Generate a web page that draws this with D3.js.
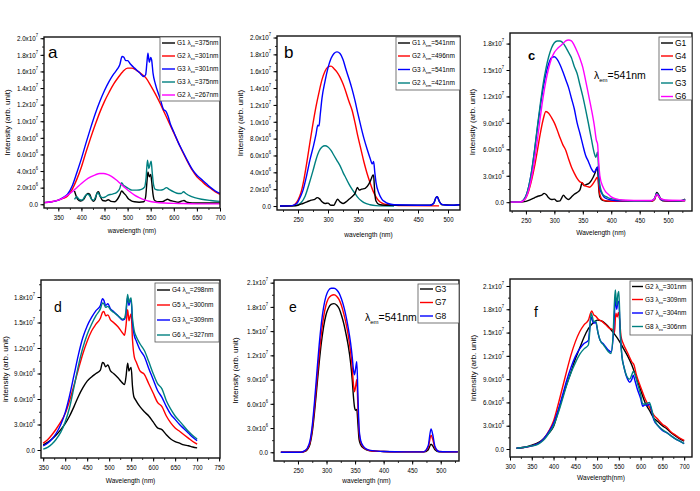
<!DOCTYPE html>
<html><head><meta charset="utf-8">
<script src="https://cdn.jsdelivr.net/npm/d3@7"></script>
<style>body{margin:0;background:#fff}svg{display:block}text{font-family:"Liberation Sans",Arial,sans-serif;fill:#000}</style>
</head><body><svg id="chart" width="700" height="491"></svg>
<script>
// ===== DATA (intensity in units of 1e6 arb. unit) =====
// Panel a: emission spectra
const aXTicks = [350,400,450,500,550,600,650,700];
const aYTicks = [0,2,4,6,8,10,12,14,16,18,20];
const aLabels = [["G1","ex","=375nm"],["G2","ex","=301nm"],["G3","ex","=301nm"],["G3","ex","=375nm"],["G2","ex","=267nm"]];
const aG1_375 = [[385,1.6],[388,1.1],[392,0.6],[398,0.4],[405,0.6],[410,1.1],[414,1.3],[418,1.2],[422,0.6],[426,0.35],[430,0.6],[434,1.4],[437,1.5],[441,0.9],[446,0.45],[452,0.4],[458,0.55],[464,0.35],[472,0.3],[478,0.6],[483,1.1],[487,1.6],[491,1.4],[496,1.1],[501,0.7],[507,0.45],[515,0.3],[525,0.25],[535,0.3],[539,0.9],[542,2.8],[544,3.9],[547,3.3],[550,3.6],[552,2.8],[555,1.2],[558,0.5],[565,0.3],[575,0.3],[582,0.5],[586,0.6],[592,0.45],[600,0.35],[610,0.25],[618,0.4],[622,0.45],[628,0.25],[640,0.15],[660,0.15],[700,0.15]];
const aG2_301 = [[319,0.2],[335,0.3],[350,0.5],[360,0.7],[370,1.0],[380,1.8],[390,3.0],[400,4.5],[410,6.3],[420,8.0],[430,9.6],[440,11.1],[450,12.4],[460,13.5],[470,14.5],[480,15.3],[490,16.0],[500,16.4],[510,16.4],[520,16.1],[530,15.7],[540,15.2],[550,14.3],[560,13.3],[570,12.2],[580,11.0],[590,9.8],[600,8.6],[610,7.4],[620,6.2],[630,5.1],[640,4.1],[650,3.3],[660,2.8],[670,2.3],[680,1.9],[690,1.5],[700,1.2]];
const aG3_301 = [[319,0.2],[335,0.3],[350,0.5],[360,0.8],[370,1.2],[380,2.2],[390,3.8],[400,5.5],[410,7.4],[420,9.2],[430,10.9],[440,12.4],[450,13.7],[460,14.8],[470,15.7],[478,16.3],[483,16.8],[488,17.8],[492,17.7],[496,17.3],[500,17.3],[506,16.9],[515,16.4],[525,15.9],[535,15.4],[539,15.6],[542,17.2],[544,18.2],[547,17.1],[550,17.7],[552,17.4],[555,15.8],[560,14.5],[570,12.8],[578,11.4],[583,11.2],[587,10.7],[593,9.6],[600,8.7],[610,7.4],[620,6.3],[630,5.2],[640,4.2],[650,3.5],[660,3.0],[670,2.5],[680,2.0],[690,1.6],[700,1.3]];
const aG3_375 = [[385,0.6],[390,0.9],[395,0.6],[402,0.5],[408,1.0],[414,1.2],[418,1.0],[422,0.6],[427,0.5],[432,1.1],[436,1.4],[440,1.0],[446,0.8],[452,0.9],[458,1.1],[465,1.2],[472,1.3],[478,1.5],[483,1.9],[487,2.6],[491,2.3],[496,2.1],[502,1.9],[510,1.7],[520,1.7],[530,1.8],[537,2.1],[540,3.2],[543,5.3],[546,4.3],[549,4.9],[551,5.2],[553,4.0],[556,2.4],[560,1.8],[570,1.7],[578,1.8],[584,2.0],[590,1.8],[600,1.5],[610,1.3],[616,1.3],[621,1.5],[626,1.3],[635,1.0],[645,0.8],[660,0.6],[680,0.45],[700,0.35]];
const aG2_267 = [[319,0.2],[335,0.3],[350,0.5],[360,0.75],[370,1.1],[380,1.5],[390,2.0],[400,2.5],[410,2.95],[420,3.3],[430,3.55],[440,3.7],[448,3.7],[456,3.6],[465,3.35],[475,2.95],[485,2.45],[495,1.95],[505,1.5],[515,1.1],[525,0.8],[535,0.55],[545,0.4],[560,0.25],[580,0.15],[610,0.1],[650,0.05],[700,0.05]];

// Panel b: excitation spectra
const bXTicks = [250,300,350,400,450,500];
const bYTicks = [0,2,4,6,8,10,12,14,16,18,20];
const bLabels = [["G1","em","=541nm"],["G2","em","=496nm"],["G3","em","=541nm"],["G2","em","=421nm"]];
const bG1_541 = [[220,0],[240,0.02],[250,0.1],[258,0.3],[265,0.5],[272,0.7],[278,0.8],[282,1.0],[286,0.85],[290,0.5],[295,0.3],[300,0.35],[305,0.1],[310,0.1],[313,0.5],[316,0.8],[320,0.5],[325,0.3],[330,0.5],[335,0.8],[340,1.1],[345,1.5],[349,2.2],[352,1.9],[356,2.0],[362,2.1],[368,2.6],[372,3.2],[375,3.7],[376,3.6],[378,1.5],[380,0.6],[385,0.2],[395,0.1],[470,0.1],[476,0.3],[480,1.0],[482,1.1],[486,0.5],[490,0.15],[510,0.1],[520,0.15]];
const bG2_496 = [[220,0],[240,0.02],[245,0.2],[250,0.7],[255,1.6],[260,3.2],[265,5.3],[270,7.6],[275,9.8],[280,11.8],[285,13.5],[290,15.0],[295,16.0],[300,16.5],[305,16.6],[310,16.3],[315,15.9],[320,15.3],[325,14.5],[330,13.5],[335,12.4],[340,11.4],[345,9.9],[350,8.2],[355,6.7],[360,5.2],[365,3.9],[370,2.8],[375,1.8],[380,1.1],[385,0.6],[390,0.35],[400,0.15],[410,0.1],[420,0.05],[485,0.02]];
const bG3_541 = [[220,0],[240,0.05],[248,0.3],[252,0.8],[258,1.8],[264,3.5],[270,5.5],[276,7.2],[280,8.5],[283,9.6],[285,9.5],[287,10.8],[290,12.8],[295,14.8],[300,16.4],[305,17.5],[310,18.1],[315,18.3],[320,18.1],[325,17.4],[330,16.2],[335,15.1],[340,13.9],[345,12.5],[350,10.9],[355,9.4],[360,8.0],[365,6.8],[370,5.7],[374,5.0],[376,5.3],[378,4.0],[380,2.8],[385,1.5],[390,0.8],[395,0.5],[400,0.3],[410,0.15],[450,0.1],[470,0.1],[476,0.3],[480,1.0],[482,1.1],[485,0.6],[490,0.2],[500,0.1],[520,0.15]];
const bG2_421 = [[220,0],[245,0.05],[255,0.4],[262,1.2],[268,2.5],[275,4.2],[280,5.5],[285,6.5],[290,7.0],[295,7.15],[300,7.0],[305,6.6],[310,6.0],[315,5.4],[320,4.8],[325,4.0],[330,3.3],[335,2.6],[340,2.0],[345,1.5],[350,1.0],[355,0.65],[360,0.4],[370,0.15],[380,0.05],[410,0]];

// Panel c: excitation, lambda_em = 541 nm
const cXTicks = [250,300,350,400,450,500];
const cYTicks = [0,3,6,9,12,15,18];
const cLabels = ["G1","G4","G5","G3","G6"];
const cG1 = [[218,0],[245,0.05],[250,0.1],[258,0.3],[265,0.5],[272,0.7],[278,0.8],[282,1.0],[286,0.85],[290,0.5],[295,0.3],[300,0.35],[305,0.1],[310,0.15],[313,0.5],[316,0.8],[320,0.5],[325,0.3],[330,0.6],[335,0.9],[340,1.1],[345,1.4],[349,2.2],[352,1.9],[356,2.0],[362,2.2],[368,2.8],[372,3.4],[375,3.9],[376,3.8],[378,1.6],[380,0.6],[385,0.2],[395,0.1],[470,0.1],[476,0.3],[480,1.1],[482,1.0],[486,0.5],[490,0.15],[510,0.1],[525,0.2],[530,0.35]];
const cG4 = [[218,0],[240,0.02],[245,0.15],[250,0.5],[255,1.3],[260,2.5],[265,4.0],[270,5.8],[275,7.7],[280,9.3],[285,10.3],[290,10.1],[295,9.6],[300,9.0],[305,8.2],[310,7.3],[315,6.5],[320,5.9],[325,4.9],[330,4.0],[335,3.3],[340,2.7],[345,2.3],[349,2.2],[352,1.9],[357,1.8],[362,1.7],[367,2.0],[372,2.5],[375,2.8],[377,2.6],[379,1.2],[382,0.5],[387,0.2],[400,0.1],[470,0.1],[476,0.3],[480,0.9],[483,0.7],[487,0.3],[500,0.1],[530,0.15]];
const cG5 = [[218,0],[240,0.02],[245,0.2],[250,0.7],[255,1.8],[260,3.5],[265,5.8],[270,8.3],[275,10.7],[280,12.8],[285,14.5],[290,15.7],[295,16.4],[300,16.5],[305,16.2],[310,15.6],[315,14.8],[320,13.9],[325,13.0],[330,11.8],[335,10.6],[340,9.0],[345,7.8],[350,6.5],[355,5.3],[360,4.6],[365,3.8],[370,3.4],[374,3.8],[376,4.0],[378,2.8],[380,1.6],[385,0.8],[390,0.45],[400,0.25],[420,0.15],[470,0.15],[476,0.4],[480,1.0],[483,0.8],[487,0.3],[500,0.15],[530,0.2]];
const cG3 = [[218,0],[240,0.02],[245,0.2],[250,0.7],[255,1.8],[260,3.5],[265,5.8],[270,8.5],[275,11.0],[280,13.3],[285,15.1],[290,16.5],[295,17.5],[300,18.1],[305,18.3],[310,18.3],[315,18.1],[320,17.6],[325,17.0],[330,16.4],[335,15.4],[340,14.6],[345,13.3],[350,12.0],[355,10.5],[360,8.9],[365,7.2],[370,5.6],[373,5.1],[376,5.7],[378,3.5],[380,1.9],[385,0.9],[390,0.65],[395,0.5],[400,0.4],[410,0.3],[420,0.2],[440,0.12],[470,0.15],[476,0.4],[480,1.0],[483,0.8],[487,0.4],[495,0.2],[520,0.15],[530,0.3]];
const cG6 = [[218,0],[240,0.02],[245,0.15],[250,0.5],[255,1.4],[260,2.8],[265,4.7],[270,7.0],[275,9.5],[280,11.8],[285,13.7],[290,15.2],[295,16.3],[300,17.0],[305,17.4],[310,17.7],[315,18.0],[320,18.3],[325,18.4],[330,18.3],[335,17.8],[340,17.1],[345,16.3],[350,15.3],[355,13.8],[360,12.2],[365,10.6],[370,8.8],[374,7.0],[376,6.6],[378,4.5],[380,3.0],[385,1.8],[390,1.2],[395,0.9],[400,0.6],[410,0.35],[420,0.25],[440,0.2],[470,0.2],[476,0.4],[480,0.9],[483,0.7],[487,0.4],[495,0.25],[530,0.2]];

// Panel d: emission spectra
const dXTicks = [350,400,450,500,550,600,650,700,750];
const dYTicks = [0,3,6,9,12,15,18];
const dLabels = [["G4","ex","=298nm"],["G5","ex","=300nm"],["G3","ex","=309nm"],["G6","ex","=327nm"]];
const dG4_298 = [[350,0.6],[360,0.9],[370,1.3],[380,1.8],[390,2.4],[400,3.1],[410,4.0],[420,5.1],[430,6.3],[440,7.3],[450,8.1],[460,8.6],[470,9.0],[480,9.4],[485,10.3],[488,10.2],[492,9.8],[497,10.0],[503,9.3],[510,9.0],[520,8.5],[530,7.9],[535,7.7],[538,8.5],[542,10.2],[545,9.3],[548,9.6],[550,9.7],[553,7.5],[556,6.3],[560,5.9],[570,5.1],[580,4.5],[590,4.0],[600,3.3],[610,2.6],[620,2.4],[630,1.8],[640,1.3],[650,1.0],[660,0.8],[670,0.6],[680,0.5],[690,0.35],[700,0.25]];
const dG5_300 = [[350,0.8],[360,1.2],[370,1.8],[380,2.5],[390,3.3],[400,4.3],[410,5.8],[420,7.6],[430,9.5],[440,11.3],[450,12.8],[460,14.0],[470,14.8],[480,15.5],[485,16.2],[488,16.3],[492,15.8],[497,15.9],[503,15.3],[510,15.0],[520,14.5],[530,13.8],[535,13.5],[538,14.5],[542,16.5],[545,15.2],[548,15.8],[550,16.0],[553,13.0],[557,11.0],[562,10.3],[570,9.3],[580,8.9],[590,7.8],[600,6.7],[610,5.6],[620,5.1],[630,4.0],[640,3.2],[650,2.6],[660,2.2],[670,1.8],[680,1.4],[690,1.0],[700,0.7]];
const dG3_309 = [[350,0.5],[360,0.8],[370,1.3],[380,2.0],[390,3.0],[400,4.4],[410,6.4],[420,8.8],[430,11.2],[440,13.2],[450,14.6],[460,15.6],[470,16.4],[480,17.0],[485,17.8],[488,17.6],[492,17.0],[497,17.2],[503,16.6],[510,16.3],[520,15.8],[530,15.3],[535,15.4],[538,16.0],[542,18.0],[545,17.0],[548,17.6],[550,17.6],[553,15.0],[557,13.5],[562,12.8],[570,11.8],[580,11.0],[590,9.6],[600,8.3],[610,7.0],[620,6.2],[630,5.1],[640,4.2],[650,3.6],[660,3.0],[670,2.5],[680,2.0],[690,1.5],[700,1.1]];
const dG6_327 = [[350,0.1],[360,0.3],[370,0.7],[380,1.3],[390,2.1],[400,3.3],[410,5.0],[420,7.4],[430,9.9],[440,12.0],[450,13.6],[460,14.8],[470,15.8],[480,16.6],[485,17.3],[488,17.2],[492,16.8],[497,16.9],[503,16.5],[510,16.2],[520,15.8],[530,15.4],[535,15.5],[538,16.3],[542,18.3],[545,17.3],[548,17.8],[550,17.9],[553,15.5],[557,14.0],[562,13.3],[570,12.5],[580,11.7],[590,10.4],[600,9.0],[610,7.8],[620,7.2],[630,5.8],[640,4.8],[650,4.0],[660,3.4],[670,2.8],[680,2.2],[690,1.7],[700,1.3]];

// Panel e: excitation, lambda_em = 541 nm
const eXTicks = [250,300,350,400,450,500];
const eYTicks = [0,3,6,9,12,15,18,21];
const eLabels = ["G3","G7","G8"];
const eG3 = [[220,0],[255,0],[262,0.1],[267,0.4],[271,1.0],[275,2.5],[279,5.0],[283,8.0],[287,11.0],[291,13.6],[295,15.6],[299,17.0],[303,17.8],[308,18.3],[313,18.4],[318,18.2],[322,17.8],[326,17.0],[330,16.0],[334,14.7],[338,13.2],[342,11.2],[345,9.0],[347,7.0],[349,5.6],[351,5.2],[353,5.3],[355,3.5],[357,1.6],[360,0.9],[365,0.5],[370,0.3],[380,0.15],[400,0.1],[440,0.05],[470,0.05],[478,0.3],[483,1.0],[486,0.8],[490,0.3],[497,0.05],[530,0.05]];
const eG7 = [[220,0],[255,0],[262,0.15],[267,0.5],[271,1.2],[275,2.9],[279,5.6],[283,8.8],[287,12.0],[291,14.7],[295,16.8],[299,18.2],[303,19.0],[308,19.4],[313,19.5],[318,19.3],[322,18.9],[326,18.2],[330,17.2],[334,16.0],[338,14.5],[342,12.5],[345,10.5],[347,8.5],[349,7.5],[351,8.2],[353,9.0],[355,5.5],[357,2.5],[360,1.2],[365,0.6],[370,0.35],[380,0.15],[400,0.1],[440,0.05],[470,0.05],[478,0.6],[483,2.1],[486,1.6],[490,0.5],[497,0.1],[530,0.05]];
const eG8 = [[220,0],[255,0],[262,0.2],[267,0.6],[271,1.4],[275,3.3],[279,6.3],[283,9.8],[287,13.2],[291,16.0],[295,18.0],[299,19.3],[303,20.0],[308,20.3],[313,20.3],[318,20.1],[322,19.7],[326,19.0],[330,18.1],[334,16.9],[338,15.4],[342,13.6],[345,11.8],[347,10.3],[349,9.6],[351,10.4],[353,11.2],[355,7.0],[357,3.0],[360,1.4],[365,0.7],[370,0.4],[380,0.2],[400,0.1],[440,0.05],[470,0.05],[478,0.8],[483,2.9],[486,2.2],[490,0.7],[497,0.1],[530,0.05]];

// Panel f: emission spectra
const fXTicks = [300,350,400,450,500,550,600,650,700];
const fYTicks = [0,3,6,9,12,15,18,21];
const fLabels = [["G2","ex","=301nm"],["G3","ex","=309nm"],["G7","ex","=304nm"],["G8","ex","=306nm"]];
const fG2_301 = [[315,0.1],[330,0.2],[350,0.5],[360,0.7],[370,1.0],[380,1.5],[390,2.1],[400,2.9],[410,4.7],[420,6.6],[430,8.3],[440,9.9],[450,11.6],[460,13.0],[470,14.4],[480,15.5],[490,16.2],[500,16.6],[510,16.5],[520,16.1],[530,15.5],[540,14.8],[550,14.0],[560,13.0],[570,12.0],[580,10.8],[590,9.2],[600,7.6],[610,6.0],[620,5.0],[630,4.0],[640,3.5],[650,3.0],[660,2.6],[670,2.1],[680,1.7],[690,1.3],[700,1.0]];
const fG3_309 = [[315,0.1],[330,0.2],[350,0.4],[360,0.6],[370,0.9],[380,1.5],[390,2.4],[400,3.6],[410,5.6],[420,7.8],[430,10.0],[440,12.1],[450,13.8],[460,15.1],[470,16.0],[480,16.6],[485,17.5],[488,17.8],[492,17.3],[497,17.1],[503,16.7],[510,16.5],[520,16.0],[530,15.5],[535,15.4],[540,15.0],[543,17.5],[546,17.0],[549,17.6],[552,16.5],[555,14.5],[560,13.6],[570,12.4],[580,11.2],[585,10.8],[590,9.6],[600,8.0],[610,6.5],[620,5.4],[630,4.4],[640,3.8],[650,3.2],[660,2.8],[670,2.2],[680,1.8],[690,1.4],[700,1.1]];
const fG7_304 = [[315,0.1],[330,0.2],[350,0.4],[360,0.6],[370,0.9],[380,1.5],[390,2.3],[400,3.3],[410,4.9],[420,6.8],[430,8.8],[440,10.5],[450,11.9],[460,12.9],[470,13.6],[480,14.0],[483,15.5],[486,17.0],[489,16.6],[492,16.2],[497,16.3],[502,15.0],[507,14.0],[515,13.5],[525,12.8],[532,12.5],[537,14.5],[540,17.5],[542,19.5],[545,18.0],[548,19.0],[550,19.0],[553,15.0],[557,12.0],[562,10.5],[570,9.0],[575,8.6],[580,9.0],[583,9.5],[587,8.8],[592,7.8],[600,6.5],[605,5.5],[610,5.7],[615,5.6],[620,5.8],[625,5.0],[630,3.8],[640,3.0],[650,2.4],[660,2.1],[670,1.7],[680,1.3],[690,1.0],[700,0.7]];
const fG8_306 = [[315,0.1],[330,0.2],[350,0.4],[360,0.5],[370,0.8],[380,1.3],[390,2.1],[400,3.0],[410,4.5],[420,6.3],[430,8.2],[440,9.8],[450,11.1],[460,12.2],[470,12.9],[480,13.4],[483,15.0],[486,17.5],[489,17.1],[492,16.4],[497,16.5],[502,15.0],[507,14.0],[515,13.4],[525,12.6],[532,12.3],[537,15.0],[540,19.0],[542,20.5],[545,18.5],[548,20.0],[550,20.3],[553,15.5],[557,12.0],[562,10.5],[570,9.2],[575,9.0],[580,9.6],[583,10.0],[587,9.6],[592,8.6],[600,7.0],[605,5.8],[610,5.8],[615,5.9],[620,6.0],[625,5.2],[630,4.0],[640,3.0],[650,2.5],[660,2.1],[670,1.7],[680,1.3],[690,1.0],[700,0.7]];

// ===== STYLE / LAYOUT =====
const K='#000000', R='#ff0000', B='#0000ff', T='#008080', M='#ff00ff';
const panels = [
 {id:'a', L:44,T:37,R:220,B:208, xd:[319,700], yd:[-0.45,20.15], xt:aXTicks, yt:aYTicks, xm:25, ym:1,
  series:[[aG1_375,K],[aG2_301,R],[aG3_301,B],[aG3_375,T],[aG2_267,M]],
  xt_title:'wavelength (nm)', xty:233, yt_title:'Intensity (arb. unit)', yty:7,
  letter:'a', lx:48, ly:58, lsize:17,
  leg:{box:[160,37,220,101], ys:[43,56,69,82,95], lx:[162,175], tx:177, labels:aLabels, colors:[K,R,B,T,M], fs:6.5}},
 {id:'b', L:277,T:36,R:460,B:210, xd:[215,520], yd:[-0.47,20.18], xt:bXTicks, yt:bYTicks, xm:25, ym:1,
  series:[[bG2_421,T],[bG2_496,R],[bG1_541,K],[bG3_541,B]],
  xt_title:'wavelength (nm)', xty:237, yt_title:'Intensity (arb. unit)', yty:240,
  letter:'b', lx:284, ly:58, lsize:17,
  leg:{box:[396,37,460,90], ys:[43,56,69.5,83], lx:[398,410], tx:412, labels:bLabels, colors:[K,R,B,T], fs:6.5}},
 {id:'c', L:510,T:33,R:692,B:211, xd:[222,542], yd:[-1.0,19.2], xt:cXTicks, yt:cYTicks, xm:25, ym:1.5,
  series:[[cG1,K],[cG4,R],[cG5,B],[cG3,T],[cG6,M]],
  xt_title:'Wavelength (nm)', xty:235, yt_title:'Intensity (arb. unit)', yty:472,
  letter:'c', lx:528, ly:60, lsize:13, lbold:true,
  ann:{x:594,y:79},
  leg:{box:[659,37,692,100], ys:[43,56,69.5,83,96.5], lx:[661,673], tx:675, labels:cLabels, colors:[K,R,B,T,M], fs:8.5}},
 {id:'d', L:41,T:280,R:220,B:458, xd:[345,752], yd:[-0.94,20.0], xt:dXTicks, yt:dYTicks, xm:25, ym:1.5,
  series:[[dG4_298,K],[dG5_300,R],[dG3_309,B],[dG6_327,T]],
  xt_title:'Wavelength (nm)', xty:483, yt_title:'intensity (arb. unit)', yty:5,
  letter:'d', lx:54, ly:312, lsize:14,
  leg:{box:[155,283,219,342], ys:[290,305,320,335], lx:[157,170], tx:172, labels:dLabels, colors:[K,R,B,T], fs:6.5}},
 {id:'e', L:274,T:280,R:459,B:461, xd:[208,532], yd:[-1.08,21.33], xt:eXTicks, yt:eYTicks, xm:25, ym:1.5,
  series:[[eG3,K],[eG7,R],[eG8,B]],
  xt_title:'wavelength (nm)', xty:483, yt_title:'Intensity (arb. unit)', yty:235,
  letter:'e', lx:289, ly:312, lsize:14,
  ann:{x:365,y:321},
  leg:{box:[418,284,459,323], ys:[289,302.5,316], lx:[420,433], tx:435, labels:eLabels, colors:[K,R,B], fs:8.5}},
 {id:'f', L:510,T:279,R:692,B:457, xd:[300,718], yd:[-1.03,21.9], xt:fXTicks, yt:fYTicks, xm:25, ym:1.5,
  series:[[fG2_301,K],[fG3_309,R],[fG7_304,B],[fG8_306,T]],
  xt_title:'Wavelength(nm)', xty:480, yt_title:'Intensity (arb. unit)', yty:473,
  letter:'f', lx:534, ly:317, lsize:14,
  leg:{box:[630,281,692,335], ys:[286.5,299.5,313,326.5], lx:[632,643], tx:645, labels:fLabels, colors:[K,R,B,T], fs:6.5}}
];

const svg = d3.select('#chart');
const defs = svg.append('defs');
const XS = 0.76; // horizontal squeeze of x tick labels

function sci(v){
  if (v === 0) return ['0.0',''];
  const raw = v*1e6;
  const e = Math.floor(Math.log10(raw)+1e-9);
  return [(raw/Math.pow(10,e)).toFixed(1)+'x10', String(e)];
}

panels.forEach(p => {
  const g = svg.append('g');
  const x = d3.scaleLinear().domain(p.xd).range([p.L,p.R]);
  const y = d3.scaleLinear().domain(p.yd).range([p.B,p.T]);
  defs.append('clipPath').attr('id','clip'+p.id).append('rect')
    .attr('x',p.L).attr('y',p.T).attr('width',p.R-p.L).attr('height',p.B-p.T);

  // minor ticks
  const xMinor = d3.range(Math.ceil(p.xd[0]/p.xm)*p.xm, p.xd[1]+1e-9, p.xm);
  const yMinor = d3.range(0, p.yd[1]+1e-9, p.ym);
  g.append('g').attr('transform',`translate(0,${p.B})`)
    .call(d3.axisBottom(x).tickValues(xMinor).tickSize(2).tickFormat(''))
    .call(s=>{s.select('.domain').remove(); s.selectAll('line').attr('stroke-width',0.8);});
  g.append('g').attr('transform',`translate(${p.L},0)`)
    .call(d3.axisLeft(y).tickValues(yMinor).tickSize(2).tickFormat(''))
    .call(s=>{s.select('.domain').remove(); s.selectAll('line').attr('stroke-width',0.8);});

  // major x axis
  const xa = g.append('g').attr('transform',`translate(0,${p.B})`)
    .call(d3.axisBottom(x).tickValues(p.xt).tickSize(3.5).tickPadding(2.5));
  xa.select('.domain').remove();
  xa.selectAll('line').attr('stroke-width',1);
  xa.selectAll('text').attr('font-size',8).attr('fill','#000')
    .attr('transform',`scale(${XS},1)`);

  // major y axis
  const ya = g.append('g').attr('transform',`translate(${p.L},0)`)
    .call(d3.axisLeft(y).tickValues(p.yt).tickSize(3.5).tickPadding(2));
  ya.select('.domain').remove();
  ya.selectAll('line').attr('stroke-width',1);
  ya.selectAll('text').each(function(d){
    const t = d3.select(this);
    const [m,e] = sci(d);
    t.text(null).attr('font-size',7).attr('fill','#000')
      .attr('x',-6/0.9).attr('transform','scale(0.9,1)');
    t.append('tspan').text(m);
    if (e) t.append('tspan').attr('font-size',4.5).attr('dy','-0.9em').text(e);
  });

  // curves
  const line = d3.line().x(d=>x(d[0])).y(d=>y(d[1])).curve(d3.curveMonotoneX);
  const lg = g.append('g').attr('clip-path',`url(#clip${p.id})`);
  p.series.forEach(([data,col]) => {
    lg.append('path').datum(data).attr('d',line).attr('fill','none')
      .attr('stroke',col).attr('stroke-width',1.4).attr('stroke-linejoin','round');
  });

  // frame
  g.append('rect').attr('x',p.L).attr('y',p.T).attr('width',p.R-p.L).attr('height',p.B-p.T)
    .attr('fill','none').attr('stroke','#111').attr('stroke-width',1.4);

  // axis titles
  g.append('text').attr('x',(p.L+p.R)/2/0.82).attr('y',p.xty).attr('text-anchor','middle')
    .attr('font-size',8).attr('transform','scale(0.82,1)').text(p.xt_title);
  g.append('text').attr('transform',`translate(${p.yty},${(p.T+p.B)/2}) rotate(-90)`)
    .attr('text-anchor','middle').attr('dy','0.35em').attr('font-size',8).text(p.yt_title);

  // panel letter
  g.append('text').attr('x',p.lx).attr('y',p.ly).attr('font-size',p.lsize)
    .attr('font-weight',p.lbold?'bold':'normal').text(p.letter);

  // annotation
  if (p.ann){
    const t = g.append('text').attr('x',p.ann.x).attr('y',p.ann.y).attr('font-size',10.5);
    t.append('tspan').text('λ');
    t.append('tspan').attr('font-size',6).attr('dy',3).text('em');
    t.append('tspan').attr('dy',-3).text('=541nm');
  }

  // legend
  const L = p.leg;
  g.append('rect').attr('x',L.box[0]).attr('y',L.box[1]).attr('width',L.box[2]-L.box[0])
    .attr('height',L.box[3]-L.box[1]).attr('fill','#fff').attr('stroke','#555').attr('stroke-width',0.8);
  L.labels.forEach((lab,i) => {
    g.append('line').attr('x1',L.lx[0]).attr('x2',L.lx[1]).attr('y1',L.ys[i]).attr('y2',L.ys[i])
      .attr('stroke',L.colors[i]).attr('stroke-width',1.4);
    const t = g.append('text').attr('x',L.tx).attr('y',L.ys[i]).attr('dy','0.35em').attr('font-size',L.fs);
    if (Array.isArray(lab)){
      t.append('tspan').text(lab[0]+' λ');
      t.append('tspan').attr('font-size',L.fs*0.6).attr('dy',2).text(lab[1]);
      t.append('tspan').attr('dy',-2).text(lab[2]);
    } else t.text(lab);
  });
});
</script>
</body></html>
